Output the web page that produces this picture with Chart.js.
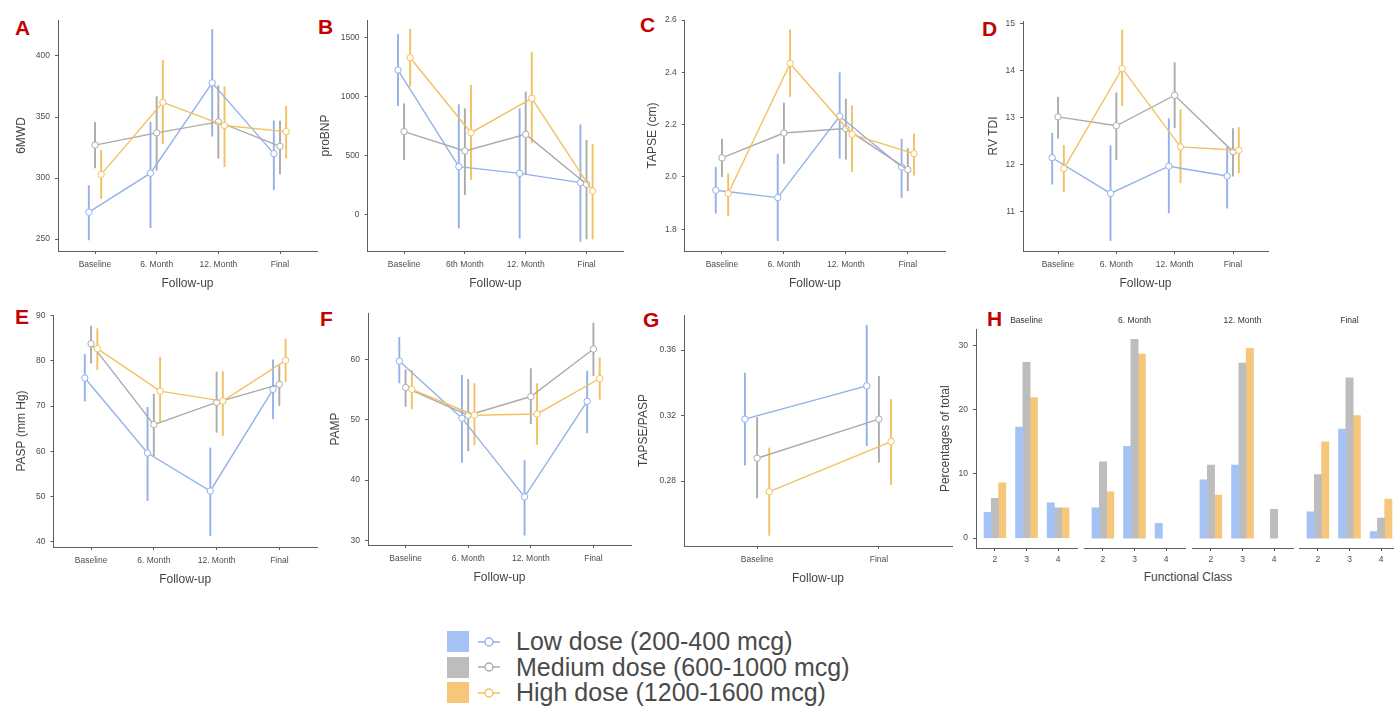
<!DOCTYPE html>
<html>
<head>
<meta charset="utf-8">
<title>Dose groups over follow-up</title>
<script src="https://cdn.jsdelivr.net/npm/chart.js@4.4.1/dist/chart.umd.min.js"></script>
<style>
  html, body { margin: 0; padding: 0; background: #fff; overflow: hidden; }
  #page { position: relative; width: 1394px; height: 710px; overflow: hidden; font-family: 'Liberation Sans', Arial, sans-serif; }
  #page canvas { position: absolute; }
  .tag { position: absolute; color: #c40000; font-weight: bold; font-size: 21px; line-height: 21px; }
  .xtitle { position: absolute; font-size: 12px; color: #444; transform: translate(-50%, -50%); white-space: nowrap; }
  #legend { position: absolute; left: 447px; top: 629px; }
  .row { display: flex; align-items: center; height: 25.5px; }
  .swatch { width: 22px; height: 21px; }
  .row svg { margin-left: 9px; }
  .row span { margin-left: 16px; font-size: 25px; color: #4a4a4a; white-space: nowrap; }
</style>
</head>
<body>
<div id="page">
  <div class="tag" style="left:15px;top:17px">A</div>
  <div class="tag" style="left:318px;top:16px">B</div>
  <div class="tag" style="left:640px;top:14px">C</div>
  <div class="tag" style="left:982px;top:18px">D</div>
  <div class="tag" style="left:15px;top:306px">E</div>
  <div class="tag" style="left:320px;top:308px">F</div>
  <div class="tag" style="left:643px;top:309px">G</div>
  <div class="tag" style="left:987px;top:308px">H</div>
  <div class="xtitle" style="left:1188px;top:577px">Functional Class</div>
  <div id="legend"></div>
</div>
<script>
// ---- Data ----
const doses = ["Low dose (200-400 mcg)", "Medium dose (600-1000 mcg)", "High dose (1200-1600 mcg)"];
const visits = ["Baseline", "6. Month", "12. Month", "Final"];
const visitsBnp = ["Baseline", "6th Month", "12. Month", "Final"];
const visitsRatio = ["Baseline", "Final"];
const fcClasses = ["2", "3", "4"];
const fcFacets = ["Baseline", "6. Month", "12. Month", "Final"];

// A: 6MWD (mean, [low, high])
const mwdLow = [272, 304, 378, 320];
const mwdLowCI = [[249, 294], [259, 346], [334, 422], [290, 347]];
const mwdMed = [327, 337, 346, 326];
const mwdMedCI = [[308, 346], [306, 367], [316, 376], [303, 347]];
const mwdHigh = [303, 362, 343, 338];
const mwdHighCI = [[283, 323], [328, 397], [309, 375], [316, 359]];

// B: proBNP
const bnpLow = [1225, 405, 348, 269];
const bnpLowCI = [[920, 1528], [-119, 934], [-204, 900], [-232, 764]];
const bnpMed = [702, 538, 679, 255];
const bnpMedCI = [[461, 942], [164, 900], [334, 1042], [-212, 631]];
const bnpHigh = [1330, 693, 985, 198];
const bnpHighCI = [[1084, 1574], [292, 1098], [603, 1381], [-212, 597]];

// C: TAPSE (cm)
const tapseLow = [1.949, 1.921, 2.232, 2.038];
const tapseLowCI = [[1.86, 2.038], [1.755, 2.089], [2.07, 2.40], [1.92, 2.146]];
const tapseMed = [2.073, 2.168, 2.185, 2.028];
const tapseMedCI = [[2.0, 2.146], [2.051, 2.284], [2.066, 2.299], [1.946, 2.11]];
const tapseHigh = [1.937, 2.434, 2.163, 2.089];
const tapseHighCI = [[1.851, 2.013], [2.306, 2.564], [2.019, 2.274], [2.006, 2.166]];

// D: RV TDI
const tdiLow = [12.14, 11.38, 11.96, 11.75];
const tdiLowCI = [[11.57, 12.67], [10.37, 12.40], [10.96, 12.98], [11.06, 12.37]];
const tdiMed = [13.01, 12.82, 13.47, 12.27];
const tdiMedCI = [[12.55, 13.44], [12.09, 13.53], [12.77, 14.17], [11.74, 12.77]];
const tdiHigh = [11.91, 14.04, 12.37, 12.30];
const tdiHighCI = [[11.41, 12.41], [13.24, 14.87], [11.60, 13.17], [11.81, 12.79]];

// E: PASP (mm Hg)
const paspLow = [76.2, 59.6, 51.2, 73.7];
const paspLowCI = [[71.0, 81.5], [49.0, 69.8], [41.2, 60.8], [67.1, 80.3]];
const paspMed = [83.8, 65.9, 70.8, 74.8];
const paspMedCI = [[79.4, 87.8], [58.9, 72.7], [64.1, 77.6], [70.0, 79.0]];
const paspHigh = [82.7, 73.3, 71.1, 80.1];
const paspHighCI = [[78.0, 87.2], [66.3, 80.9], [63.4, 77.7], [75.3, 84.9]];

// F: PAMP
const pampLow = [59.8, 50.3, 37.2, 53.1];
const pampLowCI = [[56.1, 63.8], [42.9, 57.5], [30.8, 43.3], [47.8, 58.2]];
const pampMed = [55.4, 50.8, 53.9, 61.8];
const pampMedCI = [[52.2, 58.4], [44.8, 56.8], [49.3, 58.6], [57.3, 66.2]];
const pampHigh = [55.1, 50.8, 51.0, 56.9];
const pampHighCI = [[51.8, 58.3], [45.8, 56.1], [45.9, 56.1], [53.4, 60.4]];

// G: TAPSE/PASP
const ratioLow = [0.3178, 0.3381];
const ratioLowCI = [[0.2895, 0.3462], [0.3014, 0.3754]];
const ratioMed = [0.2939, 0.3178];
const ratioMedCI = [[0.2694, 0.3190], [0.2913, 0.3442]];
const ratioHigh = [0.2735, 0.3041];
const ratioHighCI = [[0.2466, 0.3004], [0.2776, 0.3300]];

// H: percentage of total by functional class (one row per facet: classes 2, 3, 4)
const fcLow = [[4.0, 17.3, 5.5], [4.7, 14.3, 2.3], [9.1, 11.4, 0], [4.1, 17.0, 1.0]];
const fcMed = [[6.2, 27.4, 4.7], [11.9, 31.0, 0], [11.4, 27.3, 4.5], [9.9, 25.0, 3.1]];
const fcHigh = [[8.6, 21.9, 4.7], [7.2, 28.7, 0], [6.7, 29.6, 0], [15.0, 19.1, 6.1]];

// ---- Style ----
const lineColors = ["#92b1ea", "#ababab", "#f2c15f"];
const barColors = ["#a4c2f4", "#bdbdbd", "#f6c77a"];
const INK = "#4d4d4d";
const AXIS = "#5e5e5e";
const DODGE = [-0.1, 0, 0.1];
const PAD_T = 12, PAD_R = 12, X_H = 40;

Chart.defaults.font.family = "'Liberation Sans', Arial, sans-serif";
Chart.defaults.color = INK;

const pageEl = document.getElementById("page");

function placeCanvas(left, top, width, height) {
  const c = document.createElement("canvas");
  c.width = width;
  c.height = height;
  c.style.left = left + "px";
  c.style.top = top + "px";
  c.style.width = width + "px";
  c.style.height = height + "px";
  pageEl.appendChild(c);
  return c;
}

// vertical CI lines, drawn under lines and points
const errorBars = {
  id: "errorBars",
  beforeDatasetsDraw(chart) {
    const { ctx, scales: { x, y } } = chart;
    chart.data.datasets.forEach((ds) => {
      if (!ds.ci) return;
      ctx.save();
      ctx.strokeStyle = ds.borderColor;
      ctx.lineWidth = 1.9;
      ds.ci.forEach((r, j) => {
        const px = x.getPixelForValue(ds.data[j].x);
        ctx.beginPath();
        ctx.moveTo(px, y.getPixelForValue(r[0]));
        ctx.lineTo(px, y.getPixelForValue(r[1]));
        ctx.stroke();
      });
      ctx.restore();
    });
  }
};

function axisBase() {
  return {
    grid: { drawOnChartArea: false, drawTicks: true, tickLength: 3, color: AXIS },
    border: { display: true, color: AXIS, width: 1 }
  };
}

// p.area = [left, top, right, bottom] of the plotting panel in page px
function linePanel(p) {
  const [left, top, right, bottom] = p.area;
  const cl = Math.round(p.titleX - 7.2);
  const ct = top - PAD_T;
  const yw = left - cl;
  const w = Math.round(right + PAD_R - cl);
  const h = Math.round(bottom + X_H - ct);
  const n = p.cats.length;

  new Chart(placeCanvas(cl, ct, w, h), {
    type: "line",
    data: {
      datasets: p.series.map(([mean, ci], k) => ({
        label: doses[k],
        data: mean.map((v, i) => ({ x: i + DODGE[k], y: v })),
        ci: ci,
        order: 2 - k,
        borderColor: lineColors[k],
        borderWidth: 1.4,
        tension: 0,
        pointRadius: 3.2,
        pointBorderWidth: 1,
        pointBackgroundColor: "#fff",
        pointBorderColor: lineColors[k]
      }))
    },
    options: {
      responsive: false,
      animation: false,
      layout: { padding: { top: PAD_T, right: PAD_R, left: 0, bottom: 0 } },
      plugins: { legend: { display: false }, tooltip: { enabled: false } },
      scales: {
        x: {
          type: "linear", min: -0.6, max: n - 0.4, bounds: "data", offset: false,
          afterBuildTicks: (sc) => { sc.ticks = p.cats.map((_, i) => ({ value: i })); },
          afterFit: (sc) => { sc.height = X_H; },
          ticks: { callback: (v) => p.cats[v], font: { size: 8.5 }, color: INK, padding: 6, autoSkip: false, maxRotation: 0 },
          title: { display: true, text: "Follow-up", font: { size: 12 }, color: "#444", padding: 0 },
          ...axisBase()
        },
        y: {
          min: p.y[0], max: p.y[1], bounds: "data",
          afterBuildTicks: (sc) => { sc.ticks = p.yTicks.map((v) => ({ value: v })); },
          afterFit: (sc) => { sc.width = yw; },
          ticks: { callback: (v) => v.toFixed(p.digits), font: { size: 8.5 }, color: INK, padding: 5 },
          title: { display: true, text: p.yTitle, font: { size: 12 }, color: "#444", padding: 0 },
          ...axisBase()
        }
      }
    },
    plugins: [errorBars]
  });
}

linePanel({ area: [58, 20, 317, 251], titleX: 21, cats: visits, y: [240.2, 429.5], yTicks: [250, 300, 350, 400], digits: 0, yTitle: "6MWD",
  series: [[mwdLow, mwdLowCI], [mwdMed, mwdMedCI], [mwdHigh, mwdHighCI]] });
linePanel({ area: [367.6, 20, 622.5, 251], titleX: 325, cats: visitsBnp, y: [-311, 1650], yTicks: [0, 500, 1000, 1500], digits: 0, yTitle: "proBNP",
  series: [[bnpLow, bnpLowCI], [bnpMed, bnpMedCI], [bnpHigh, bnpHighCI]] });
linePanel({ area: [684.8, 20, 945, 251], titleX: 652, cats: visits, y: [1.717, 2.6], yTicks: [1.8, 2.0, 2.2, 2.4, 2.6], digits: 1, yTitle: "TAPSE (cm)",
  series: [[tapseLow, tapseLowCI], [tapseMed, tapseMedCI], [tapseHigh, tapseHighCI]] });
linePanel({ area: [1023, 21, 1268, 251], titleX: 993, cats: visits, y: [10.155, 15.05], yTicks: [11, 12, 13, 14, 15], digits: 0, yTitle: "RV TDI",
  series: [[tdiLow, tdiLowCI], [tdiMed, tdiMedCI], [tdiHigh, tdiHighCI]] });
linePanel({ area: [53.4, 315, 316.7, 547], titleX: 21, cats: visits, y: [38.8, 90.15], yTicks: [40, 50, 60, 70, 80, 90], digits: 0, yTitle: "PASP (mm Hg)",
  series: [[paspLow, paspLowCI], [paspMed, paspMedCI], [paspHigh, paspHighCI]] });
linePanel({ area: [368, 313, 631, 545], titleX: 335, cats: visits, y: [29.2, 67.8], yTicks: [30, 40, 50, 60], digits: 0, yTitle: "PAMP",
  series: [[pampLow, pampLowCI], [pampMed, pampMedCI], [pampHigh, pampHighCI]] });
linePanel({ area: [684, 315, 952, 546], titleX: 643, cats: visitsRatio, y: [0.2403, 0.3814], yTicks: [0.28, 0.32, 0.36], digits: 2, yTitle: "TAPSE/PASP",
  series: [[ratioLow, ratioLowCI], [ratioMed, ratioMedCI], [ratioHigh, ratioHighCI]] });

// ---- H: faceted bars ----
const facetLeft = [976, 1084, 1192, 1299];
const FACET_W = 101, H_TOP = 329.3, H_BOTTOM = 548, H_XH = 24, H_PAD = 4;
const titleBox = 8.5 * 1.2 + 3.2;

fcFacets.forEach((facet, f) => {
  const first = f === 0;
  const cl = first ? 938 : facetLeft[f];
  const ct = Math.round(H_TOP - titleBox - H_PAD);
  const w = facetLeft[f] + FACET_W + 5 - cl;
  const h = Math.round(H_BOTTOM + H_XH - ct);
  const yw = facetLeft[f] - cl;

  new Chart(placeCanvas(cl, ct, w, h), {
    type: "bar",
    data: {
      datasets: [fcLow, fcMed, fcHigh].map((vals, k) => ({
        label: doses[k],
        // empty groups keep their slot but draw nothing
        data: vals[f].map((v, i) => ({ x: i, y: v > 0 ? v : null })),
        backgroundColor: barColors[k],
        borderWidth: 0,
        barThickness: 7.3
      }))
    },
    options: {
      responsive: false,
      animation: false,
      layout: { padding: { top: H_PAD, right: 5, left: 0, bottom: 0 } },
      plugins: {
        legend: { display: false },
        tooltip: { enabled: false },
        title: { display: true, fullSize: false, text: facet, font: { size: 8.5, weight: "normal" }, color: "#333", padding: { top: 0, bottom: 3.2 } }
      },
      scales: {
        x: {
          type: "linear", min: -0.6, max: 2.6, bounds: "data", offset: false,
          afterBuildTicks: (sc) => { sc.ticks = fcClasses.map((_, i) => ({ value: i })); },
          afterFit: (sc) => { sc.height = H_XH; },
          ticks: { callback: (v) => fcClasses[v], font: { size: 8.5 }, color: INK, padding: 4, autoSkip: false, maxRotation: 0 },
          grid: { drawOnChartArea: false, drawTicks: true, tickLength: 3, color: AXIS, offset: false },
          border: { display: true, color: AXIS, width: 1 }
        },
        y: {
          display: first,
          min: -1.55, max: 32.55, bounds: "data",
          afterBuildTicks: (sc) => { sc.ticks = [0, 10, 20, 30].map((v) => ({ value: v })); },
          afterFit: (sc) => { sc.width = yw; },
          ticks: { font: { size: 8.5 }, color: INK, padding: 5 },
          title: { display: true, text: "Percentages of total", font: { size: 12 }, color: "#444", padding: 0 },
          ...axisBase()
        }
      }
    }
  });
});

// ---- Legend ----
const legendEl = document.getElementById("legend");
doses.forEach((name, k) => {
  const row = document.createElement("div");
  row.className = "row";
  row.innerHTML =
    `<div class="swatch" style="background:${barColors[k]}"></div>` +
    `<svg width="22" height="12"><line x1="0" y1="6" x2="22" y2="6" stroke="${lineColors[k]}" stroke-width="1.5"/>` +
    `<circle cx="11" cy="6" r="4" fill="#fff" stroke="${lineColors[k]}" stroke-width="1.4"/></svg>` +
    `<span>${name}</span>`;
  legendEl.appendChild(row);
});
</script>
</body>
</html>
